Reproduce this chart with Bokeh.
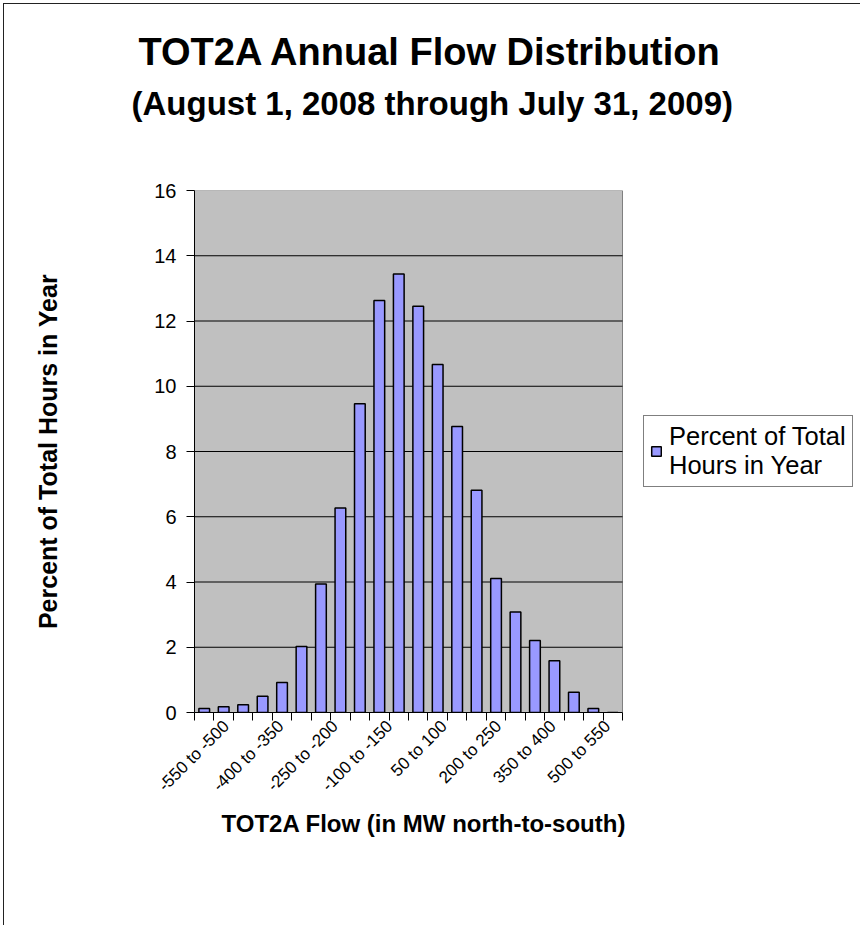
from math import pi
from bokeh.plotting import figure
from bokeh.models import (Range1d, FixedTicker, Legend, LegendItem, Title, ColumnDataSource)
from bokeh.embed import file_html
from bokeh.resources import INLINE

# ---- data ----
bins = ["-550 to -500", "-500 to -450", "-450 to -400", "-400 to -350",
        "-350 to -300", "-300 to -250", "-250 to -200", "-200 to -150",
        "-150 to -100", "-100 to -150", "-50 to 0", "0 to 50",
        "50 to 100", "100 to 150", "150 to 200", "200 to 250",
        "250 to 300", "300 to 350", "350 to 400", "400 to 450",
        "450 to 500", "500 to 550"]
percent = [0.12, 0.18, 0.24, 0.50, 0.92, 2.02, 3.94, 6.27, 9.46, 12.63,
           13.44, 12.45, 10.67, 8.77, 6.81, 4.11, 3.08, 2.21, 1.59, 0.62,
           0.12, 0.0]
y_ticks = [0, 2, 4, 6, 8, 10, 12, 14, 16]
label_every = 3

title_text = "TOT2A Annual Flow Distribution"
subtitle_text = "(August 1, 2008 through July 31, 2009)"
x_title = "TOT2A Flow (in MW north-to-south)"
y_title = "Percent of Total Hours in Year"
series_name = "Percent of Total\nHours in Year"

FONT = "Liberation Sans"

n = len(bins)
src = ColumnDataSource(dict(pos=[i + 0.5 for i in range(n)], bin=bins, pct=percent))
grid_src = ColumnDataSource(dict(y=y_ticks[1:-1]))

W, H = 857, 922
PLOT_PX = 428.0          # width of the grey plot area
FRAME_PX = 664.0         # frame also hosts the legend to the right
p = figure(x_range=Range1d(0, n * FRAME_PX / PLOT_PX), y_range=Range1d(0, 16),
           width=W, height=H, output_backend="svg", toolbar_location=None,
           min_border_left=190, min_border_right=3,
           min_border_top=186, min_border_bottom=214)
p.styles = {"margin-left": "3px", "margin-top": "3px",
            "border-left": "1px solid #222", "border-top": "1px solid #222"}
p.title.visible = False
p.background_fill_color = "white"
p.border_fill_color = "white"
p.outline_line_color = None
p.xgrid.visible = False
p.ygrid.visible = False

# grey plot area and horizontal gridlines, limited to the category span
p.quad(left=0, right=n, bottom=y_ticks[0], top=y_ticks[-1],
       fill_color="#C0C0C0", line_color="#808080", line_width=1, level="image")
p.segment(x0=0, x1=n, y0="y", y1="y", source=grid_src,
          line_color="black", line_width=1, level="underlay")

r = p.vbar(x="pos", top="pct", source=src, width=0.55, fill_color="#9999FF",
           line_color="black", line_width=1.5)

# x axis: tick marks on category boundaries (minor), sparse labels (major)
label_idx = list(range(0, n, label_every))
# label anchor positions (layout only: slightly compressed, as in the original)
lab_pos = [1.63 + 2.8 * k for k in range(len(label_idx))]
xax = p.xaxis[0]
xax.bounds = (0, n)
xax.ticker = FixedTicker(ticks=lab_pos, minor_ticks=list(range(n + 1)))
xax.major_label_overrides = {lp: bins[i] for lp, i in zip(lab_pos, label_idx)}
xax.major_tick_out = 0
xax.major_tick_in = 0
xax.minor_tick_out = 8
xax.minor_tick_in = 0
xax.minor_tick_line_color = "black"
xax.axis_line_color = "black"
xax.major_label_orientation = pi / 4
xax.major_label_text_font = FONT
xax.major_label_text_font_size = "17px"
xax.major_label_text_color = "black"
xax.major_label_standoff = 3

yax = p.yaxis[0]
yax.ticker = FixedTicker(ticks=y_ticks)
yax.major_tick_out = 8
yax.major_tick_in = 0
yax.minor_tick_out = 0
yax.minor_tick_in = 0
yax.axis_line_color = "black"
yax.major_tick_line_color = "black"
yax.major_label_text_font = FONT
yax.major_label_text_font_size = "20px"
yax.major_label_text_color = "black"
yax.major_label_standoff = 10
yax.axis_label = y_title
yax.axis_label_text_font = FONT
yax.axis_label_text_font_size = "25px"
yax.axis_label_text_font_style = "bold"
yax.axis_label_text_color = "black"
yax.axis_label_standoff = 89

legend = Legend(items=[LegendItem(label=series_name, renderers=[r])],
                location=(449, 225))
legend.border_line_color = "black"
legend.border_line_width = 1
legend.background_fill_color = "white"
legend.background_fill_alpha = 1
legend.label_text_font = FONT
legend.label_text_font_size = "25.5px"
legend.label_text_color = "black"
legend.label_text_line_height = 1.12
legend.glyph_width = 12
legend.glyph_height = 12
legend.label_standoff = 7
legend.padding = 6
legend.margin = 0
p.add_layout(legend)

# x-axis title, centred under the grey plot area (not the wider frame)
p.add_layout(Title(text=x_title, align="left", offset=27, vertical_align="top",
                   text_font=FONT, text_font_size="24px", text_font_style="bold",
                   text_color="black"), "below")

# titles: spacer (nearest the frame), subtitle, then main title on top
p.add_layout(Title(text=" ", text_font_size="46px"), "above")
p.add_layout(Title(text=subtitle_text, align="left", offset=-63, text_font=FONT,
                   text_font_size="33px", text_font_style="bold",
                   text_color="black"), "above")
p.add_layout(Title(text=title_text, align="left", offset=-56, text_font=FONT,
                   text_font_size="38px", text_font_style="bold",
                   text_color="black"), "above")

open("out.html", "w").write(file_html(p, INLINE))
